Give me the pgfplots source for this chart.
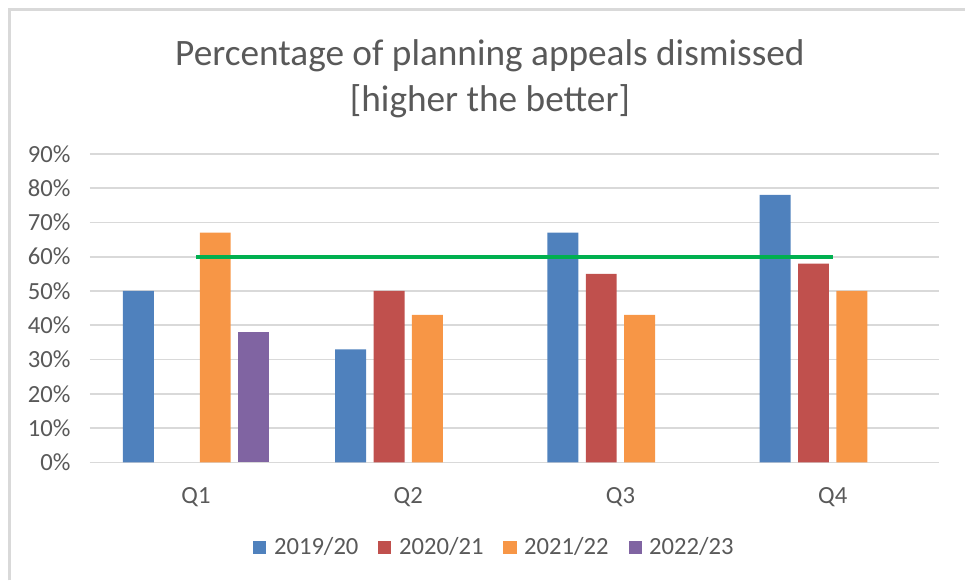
\documentclass[border=0pt]{standalone}
\usepackage{pgfplots}
\pgfplotsset{compat=1.18}
\usepackage{fontspec}
\setmainfont{Carlito}
\definecolor{cBlue}{HTML}{4F81BD}
\definecolor{cRed}{HTML}{C0504D}
\definecolor{cOrange}{HTML}{F79646}
\definecolor{cPurple}{HTML}{8064A2}
\definecolor{cGreen}{HTML}{00B050}
\definecolor{cGrid}{HTML}{D9D9D9}
\definecolor{cText}{HTML}{595959}
\begin{document}
\begin{tikzpicture}
% page extent: 966 x 581 px at 0.75pt/px
\path (0pt,0pt) rectangle (724.5pt,-435.75pt);
% chart frame (left and top edges visible)
\draw[cGrid, line width=1.8pt] (7.2pt,-435.75pt) -- (7.2pt,-7pt) -- (724.5pt,-7pt);
% title
\node[align=center, text=cText, font=\fontsize{28}{34.5}\selectfont] at (367.9pt,-59pt)
  {Percentage of planning appeals dismissed\\{}[higher the better]};
\begin{axis}[
  at={(67.5pt,-347.25pt)}, anchor=south west,
  scale only axis, width=637.5pt, height=231.75pt,
  xmin=-0.5, xmax=3.5, ymin=0, ymax=90,
  xtick={0,1,2,3}, xticklabels={Q1,Q2,Q3,Q4},
  ytick={0,10,...,90},
  yticklabel={\pgfmathprintnumber{\tick}\%},
  /pgf/number format/assume math mode=true,
  axis line style={draw=none},
  major tick length=0pt,
  ymajorgrids, grid style={cGrid, line width=1.3pt},
  tick label style={text=cText, font=\fontsize{18.5}{22}\selectfont},
  yticklabel style={xshift=-11pt},
  xticklabel style={yshift=-15pt},
  legend columns=4,
  legend style={at={(0.477,-0.275)}, anchor=center, draw=none, fill=none,
    font=\fontsize{18.5}{22}\selectfont, text=cText,
    /tikz/every even column/.append style={column sep=13pt}},
  legend image code/.code={\fill[#1] (0pt,-4.9pt) rectangle (9.8pt,4.9pt); \path (13.5pt,0pt);},
  clip=false,
]
\addplot[ybar, bar width=23.25pt, bar shift=-43.3125pt, fill=cBlue, draw=none]
  coordinates {(0,50) (1,33) (2,67) (3,78)};
\addlegendentry{2019/20}
\addplot[ybar, bar width=23.25pt, bar shift=-14.4375pt, fill=cRed, draw=none]
  coordinates {(1,50) (2,55) (3,58)};
\addlegendentry{2020/21}
\addplot[ybar, bar width=23.25pt, bar shift=14.4375pt, fill=cOrange, draw=none]
  coordinates {(0,67) (1,43) (2,43) (3,50)};
\addlegendentry{2021/22}
\addplot[ybar, bar width=23.25pt, bar shift=43.3125pt, fill=cPurple, draw=none]
  coordinates {(0,38)};
\addlegendentry{2022/23}
\addplot[cGreen, line width=3.2pt, forget plot, mark=none]
  coordinates {(0,60) (1,60) (2,60) (3,60)};
\end{axis}
\end{tikzpicture}
\end{document}
